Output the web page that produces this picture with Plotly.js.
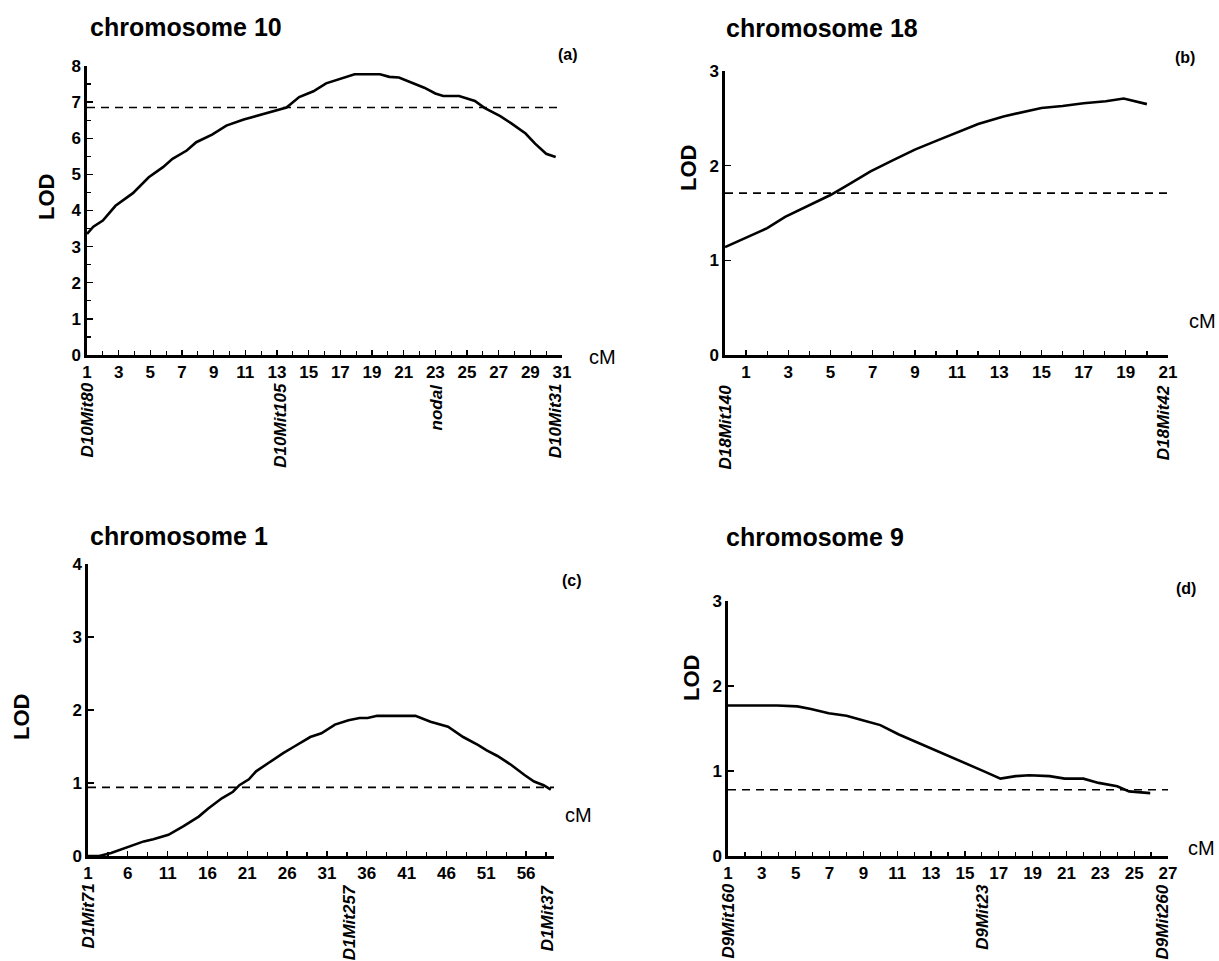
<!DOCTYPE html>
<html>
<head>
<meta charset="utf-8">
<script src="https://cdn.plot.ly/plotly-3.0.1.min.js"></script>
<style>html,body{margin:0;padding:0;background:#fff;}#chart{width:1219px;height:961px;}</style>
</head>
<body>
<div id="chart"></div>
<script>
// ---------- DATA ----------
// (a) chromosome 10
const chr10_cM  = [1, 1.4, 2, 2.8, 3.9, 4.9, 5.8, 6.4, 7.3, 7.9, 8.9, 9.8, 10.9, 12.4, 13.6, 14.4, 15.3, 16.1, 17.1, 17.9, 19.5, 20.1, 20.7, 21.4, 22.3, 23.0, 23.5, 24.5, 25.5, 26.1, 27.1, 27.8, 28.7, 29.3, 30.0, 30.6];
const chr10_LOD = [3.35, 3.55, 3.72, 4.13, 4.48, 4.92, 5.2, 5.43, 5.66, 5.89, 6.1, 6.35, 6.52, 6.71, 6.85, 7.14, 7.3, 7.52, 7.65, 7.77, 7.77, 7.7, 7.68, 7.56, 7.4, 7.24, 7.17, 7.17, 7.03, 6.84, 6.61, 6.41, 6.13, 5.85, 5.57, 5.48];
const chr10_threshold = 6.85;
const chr10_span = [1, 31];
const chr10_markers = ["D10Mit80", "D10Mit105", "nodal", "D10Mit31"];
const chr10_marker_cM = [1, 13.2, 23.1, 30.6];

// (b) chromosome 18
const chr18_cM  = [0, 1, 2, 2.85, 4, 5, 5.85, 6.9, 7.9, 9, 10.1, 10.9, 12, 13.2, 14, 15, 16, 17, 18.05, 18.9, 20];
const chr18_LOD = [1.14, 1.24, 1.34, 1.46, 1.58, 1.69, 1.8, 1.94, 2.05, 2.17, 2.27, 2.34, 2.44, 2.52, 2.56, 2.61, 2.63, 2.66, 2.68, 2.71, 2.65];
const chr18_threshold = 1.71;
const chr18_span = [0, 21];
const chr18_markers = ["D18Mit140", "D18Mit42"];
const chr18_marker_cM = [0, 20.8];

// (c) chromosome 1
const chr1_cM  = [1, 2.4, 3.9, 6, 8, 9.2, 11.1, 13, 14.9, 16.1, 17.8, 19.2, 20, 21.2, 22.1, 23.6, 25.5, 26.9, 28.9, 30.3, 32, 33.7, 35.1, 36.1, 37.3, 42.1, 44, 46.2, 48.1, 50, 51, 52.4, 54.1, 55.8, 57, 58.2, 59.1];
const chr1_LOD = [0, 0, 0.04, 0.12, 0.2, 0.23, 0.29, 0.41, 0.54, 0.65, 0.79, 0.88, 0.97, 1.05, 1.16, 1.27, 1.41, 1.5, 1.63, 1.68, 1.8, 1.86, 1.89, 1.89, 1.92, 1.92, 1.84, 1.77, 1.63, 1.52, 1.45, 1.37, 1.25, 1.11, 1.02, 0.97, 0.91];
const chr1_threshold = 0.94;
const chr1_span = [1, 59.5];
const chr1_markers = ["D1Mit71", "D1Mit257", "D1Mit37"];
const chr1_marker_cM = [1, 33.8, 58.7];

// (d) chromosome 9
const chr9_cM  = [1, 3.9, 5.1, 5.9, 6.95, 8, 8.9, 10, 11.1, 12.5, 13.9, 15, 16.2, 17.1, 18, 18.8, 20, 20.9, 22, 22.9, 24, 24.7, 25.95];
const chr9_LOD = [1.77, 1.77, 1.76, 1.73, 1.68, 1.65, 1.6, 1.54, 1.43, 1.31, 1.19, 1.1, 0.99, 0.91, 0.94, 0.95, 0.94, 0.91, 0.91, 0.86, 0.82, 0.76, 0.74];
const chr9_threshold = 0.78;
const chr9_span = [1, 27];
const chr9_markers = ["D9Mit160", "D9Mit23", "D9Mit260"];
const chr9_marker_cM = [1, 16.0, 26.7];

const panel_titles = ["chromosome 10", "chromosome 18", "chromosome 1", "chromosome 9"];
const panel_letters = ["(a)", "(b)", "(c)", "(d)"];

// ---------- LAYOUT HELPERS ----------
const W = 1219, H = 961;
const px = x => x / W;
const py = y => 1 - y / H;
const FONT = "Liberation Sans, Arial, Helvetica, sans-serif";
const TICKFONT = {family: FONT, size: 17, color: "#000", weight: 700};

const traces = [];
function addPanel(idx, cM, lod, thr, span) {
  const xa = idx === 0 ? "x" : "x" + (idx + 1);
  const ya = idx === 0 ? "y" : "y" + (idx + 1);
  traces.push({x: span, y: [thr, thr], xaxis: xa, yaxis: ya, mode: "lines",
    line: {color: "#000", width: 1.6, dash: "8px,6px"}, hoverinfo: "skip", showlegend: false});
  traces.push({x: cM, y: lod, xaxis: xa, yaxis: ya, mode: "lines",
    line: {color: "#000", width: 2.6}, showlegend: false});
}
addPanel(0, chr10_cM, chr10_LOD, chr10_threshold, chr10_span);
addPanel(1, chr18_cM, chr18_LOD, chr18_threshold, chr18_span);
addPanel(2, chr1_cM, chr1_LOD, chr1_threshold, chr1_span);
addPanel(3, chr9_cM, chr9_LOD, chr9_threshold, chr9_span);

function xAxis(x0, x1, range, tick0, dtick, minorD, anchor) {
  return {domain: [px(x0), px(x1)], range: range, anchor: anchor,
    showgrid: false, zeroline: false, showline: true, linecolor: "#000", linewidth: 2.6,
    ticks: "inside", ticklen: 5, tickwidth: 1.3, tickcolor: "#000",
    tick0: tick0, dtick: dtick, ticklabelstandoff: 0,
    minor: {dtick: minorD, tick0: tick0, ticks: "inside", ticklen: 4, tickwidth: 1.3, tickcolor: "#000", showgrid: false},
    tickfont: TICKFONT, fixedrange: true};
}
function yAxis(yTop, yBot, range, minorD, anchor) {
  const a = {domain: [py(yBot), py(yTop)], range: range, anchor: anchor,
    showgrid: false, zeroline: false, showline: true, linecolor: "#000", linewidth: 2.6,
    ticks: "inside", ticklen: 6, tickwidth: 1.3, tickcolor: "#000",
    tick0: 0, dtick: 1,
    tickfont: TICKFONT, fixedrange: true};
  if (minorD) a.minor = {dtick: minorD, ticks: "inside", ticklen: 4, tickwidth: 1.3, tickcolor: "#000", showgrid: false};
  return a;
}

const layout = {
  width: W, height: H, margin: {l: 0, r: 0, t: 0, b: 0},
  paper_bgcolor: "#fff", plot_bgcolor: "rgba(0,0,0,0)", showlegend: false,
  font: {family: FONT, color: "#000"},
  xaxis:  xAxis(87, 562, [1, 31], 1, 2, 1, "y"),
  yaxis:  yAxis(66, 355, [0, 8], 0.5, "x"),
  xaxis2: xAxis(725, 1168, [0, 21], 1, 2, 1, "y2"),
  yaxis2: yAxis(71, 355, [0, 3], null, "x2"),
  xaxis3: xAxis(88, 554, [1, 59.5], 1, 5, 2.5, "y3"),
  yaxis3: yAxis(564, 856, [0, 4], null, "x3"),
  xaxis4: xAxis(728, 1168, [1, 27], 1, 2, 1, "y4"),
  yaxis4: yAxis(601, 856, [0, 3], null, "x4"),
  annotations: []
};

const ann = layout.annotations;
function text(t, x, y, size, opts) {
  ann.push(Object.assign({text: t, xref: "paper", yref: "paper", x: px(x), y: py(y),
    showarrow: false, font: {family: FONT, size: size, color: "#000"}}, opts || {}));
}
// titles
const titlePos = [[88, 27], [724, 28], [88, 536], [724, 537]];
panel_titles.forEach((t, i) => text("<b>" + t + "</b>", titlePos[i][0], titlePos[i][1], 25, {xanchor: "left", yanchor: "middle"}));
// panel letters
const letterPos = [[580, 55], [1197, 57], [584, 580], [1198, 588]];
panel_letters.forEach((t, i) => text("<b>" + t + "</b>", letterPos[i][0], letterPos[i][1], 16, {xanchor: "right", yanchor: "middle"}));
// LOD labels
const lodPos = [[46, 197], [688, 168], [21, 717], [691, 678]];
lodPos.forEach(p => text("<b>LOD</b>", p[0], p[1], 22, {textangle: -90, xanchor: "center", yanchor: "middle"}));
// cM labels
const cmPos = [[587, 357, "left"], [1218, 321, "right"], [563, 815, "left"], [1186, 848, "left"]];
cmPos.forEach(p => text("cM", p[0], p[1], 20, {xanchor: p[2], yanchor: "middle"}));

// marker labels (rotated, under tick labels)
function markers(names, pos, xref, topY) {
  names.forEach((n, i) => ann.push({text: "<b><i>" + n + "</i></b>", xref: xref, yref: "paper",
    x: pos[i], y: py(topY), textangle: -90, xanchor: "center", yanchor: "top", showarrow: false,
    font: {family: FONT, size: 17, color: "#000"}}));
}
markers(chr10_markers, chr10_marker_cM, "x", 381);
markers(chr18_markers, chr18_marker_cM, "x2", 383);
markers(chr1_markers, chr1_marker_cM, "x3", 882);
markers(chr9_markers, chr9_marker_cM, "x4", 882);

Plotly.newPlot("chart", traces, layout, {staticPlot: true, displayModeBar: false});
</script>
</body>
</html>
